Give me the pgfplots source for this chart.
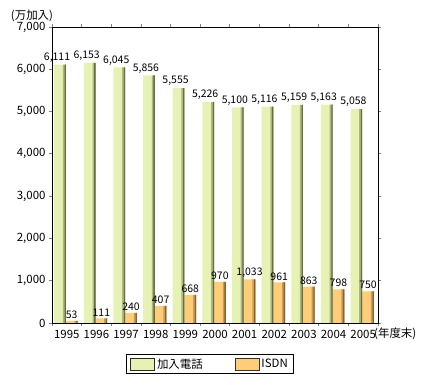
\documentclass[border=0pt]{standalone}
\usepackage{fontspec}
\setmainfont{Noto Sans CJK JP}
\usepackage{pgfplots}
\pgfplotsset{compat=1.18}
\definecolor{gl}{RGB}{230,242,179}
\definecolor{gd}{RGB}{105,110,65}
\definecolor{ol}{RGB}{255,204,120}
\definecolor{od}{RGB}{135,100,50}
\colorlet{gm}{gl!55!gd}
\colorlet{om}{ol!55!od}
\colorlet{gq}{gl!80!gd}
\colorlet{oq}{ol!80!od}
\pgfplotstableread{
x tel isdn
0 6111 53
1 6153 111
2 6045 240
3 5856 407
4 5555 668
5 5226 970
6 5100 1033
7 5116 961
8 5159 863
9 5163 798
10 5058 750
}\data
\begin{document}
\begin{tikzpicture}
\path[use as bounding box] (0,0) rectangle (427bp,385bp);
\begin{axis}[
  at={(52bp,62bp)}, anchor=south west,
  scale only axis, width=326bp, height=296bp,
  xmin=-0.5, xmax=10.5, ymin=0, ymax=7000,
  ybar=0pt, bar width=11.7bp,
  axis line style={line width=0.9bp},
  xtick={0,...,10},
  xticklabels={1995,1996,1997,1998,1999,2000,2001,2002,2003,2004,2005},
  major x tick style={draw=none},
  minor xtick={-0.5,0.5,...,10.5},
  minor tick length=3bp,
  minor x tick style={line width=0.8bp},
  ytick={0,1000,...,7000},
  y tick style={line width=0.8bp},
  ytick align=outside, major tick length=3bp,
  scaled y ticks=false,
  /pgf/number format/.cd, 1000 sep={,}, assume math mode=true, /pgfplots/.cd,
  tick label style={font=\fontsize{11.5}{13}\selectfont},
  xticklabel style={yshift=-1bp},
  nodes near coords style={font=\fontsize{10.5}{12}\selectfont, inner sep=2bp},
  legend columns=2,
  legend style={at={(0.485,-0.14)}, anchor=center, draw=black, line width=1bp,
    font=\fontsize{11.5}{13}\selectfont, inner xsep=4bp, inner ysep=2bp,
    /tikz/every even column/.append style={column sep=30bp}},
]
\addplot[draw=none, fill=gl, bar shift=-6.8bp, nodes near coords,
  nodes near coords style={xshift=-3bp},
  legend image code/.code={
     \path[fill={rgb,255:red,230;green,242;blue,179}] (0bp,-6bp) rectangle (24bp,6bp);
     \path[fill={rgb,255:red,200;green,210;blue,150}] (15bp,-6bp) rectangle (18bp,6bp);
     \path[fill={rgb,255:red,160;green,168;blue,115}] (18bp,-6bp) rectangle (21bp,6bp);
     \path[fill={rgb,255:red,105;green,110;blue,65}] (21bp,-6bp) rectangle (24bp,6bp);
     \path[draw={rgb,255:red,40;green,40;blue,40}, line width=0.6bp] (0bp,-6bp) rectangle (24bp,6bp);}]
  table[x=x, y=tel] {\data};
\addlegendentry{加入電話}
\addplot[draw=none, fill=ol, bar shift=4.9bp, nodes near coords,
  legend image code/.code={
     \path[fill=ol] (0bp,-6bp) rectangle (24bp,6bp);
     \path[fill=oq] (15bp,-6bp) rectangle (18bp,6bp);
     \path[fill=om] (18bp,-6bp) rectangle (21bp,6bp);
     \path[fill=od] (21bp,-6bp) rectangle (24bp,6bp);
     \path[draw=black!80, line width=0.6bp] (0bp,-6bp) rectangle (24bp,6bp);}]
  table[x=x, y=isdn] {\data};
\addlegendentry{ISDN}
\addplot[forget plot, draw=none, fill=gm, bar width=3bp, bar shift=-2.45bp] table[x=x, y=tel] {\data};
\addplot[forget plot, draw=none, fill=gd, bar width=1.3bp, bar shift=-1.6bp] table[x=x, y=tel] {\data};
\addplot[forget plot, draw=none, fill=om, bar width=3bp, bar shift=9.25bp] table[x=x, y=isdn] {\data};
\addplot[forget plot, draw=none, fill=od, bar width=1.3bp, bar shift=10.1bp] table[x=x, y=isdn] {\data};
\end{axis}
\node[font=\fontsize{11.5}{13}\selectfont, inner sep=0pt] at (32bp,369bp) {(万加入)};
\node[font=\fontsize{11.5}{13}\selectfont, inner sep=0pt, anchor=west] at (374bp,51bp) {(年度末)};
\end{tikzpicture}
\end{document}
